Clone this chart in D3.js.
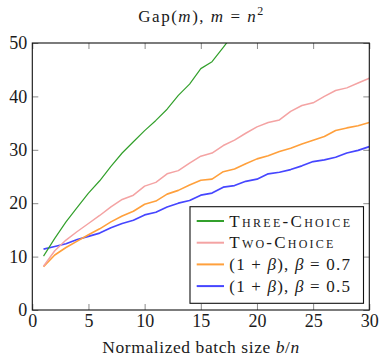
<!DOCTYPE html>
<html>
<head>
<meta charset="utf-8">
<script src="https://cdn.jsdelivr.net/npm/d3@7"></script>
</head>
<body style="margin:0; background:#fff">
<svg id="chart" width="379" height="359" style="display:block"></svg>
<script>
// batch size b/n
const batch = d3.range(1, 31);

const threeChoice = [10.1, 13.4, 16.5, 19.2, 21.9, 24.2, 26.9, 29.4, 31.5, 33.6,
  35.5, 37.6, 40.2, 42.3, 45.2, 46.5, 49.2, 51.9];
const twoChoice = [8.2, 11.1, 13.1, 14.7, 16.2, 17.7, 19.3, 20.7, 21.5, 23.2,
  23.9, 25.5, 26.1, 27.5, 28.8, 29.4, 30.8, 31.8, 33.1, 34.3,
  35.1, 35.6, 37.2, 38.3, 38.8, 40.0, 41.1, 41.6, 42.5, 43.4];
const onePlusBeta07 = [8.1, 10.3, 11.7, 12.9, 14.1, 15.2, 16.5, 17.6, 18.5, 19.8,
  20.4, 21.7, 22.4, 23.4, 24.3, 24.5, 25.9, 26.4, 27.4, 28.3,
  28.9, 29.7, 30.3, 31.1, 31.8, 32.5, 33.6, 34.1, 34.5, 35.1];
const onePlusBeta05 = [11.4, 11.9, 12.4, 13.2, 13.8, 14.4, 15.4, 16.2, 16.8, 17.8,
  18.3, 19.3, 20.0, 20.5, 21.5, 21.9, 23.0, 23.3, 24.1, 24.5,
  25.5, 25.8, 26.3, 27.0, 27.8, 28.1, 28.6, 29.4, 29.9, 30.6];

const xTicks = [0, 5, 10, 15, 20, 25, 30];
const yTicks = [0, 10, 20, 30, 40, 50];

const series = [
  { name: "Three-Choice", values: threeChoice, color: "#33a02c", width: 1.2, caps: true, textW: 120.7 },
  { name: "Two-Choice", values: twoChoice, color: "#f4a3a3", width: 1.5, caps: true, textW: 104 },
  { name: "(1 + β), β = 0.7", values: onePlusBeta07, color: "#ffa03c", width: 1.6, beta: "0.7", textW: 120.7 },
  { name: "(1 + β), β = 0.5", values: onePlusBeta05, color: "#4646ff", width: 1.7, beta: "0.5", textW: 120.7 }
];

const serif = '"Liberation Serif"';
const ink = "#1a1a1a";

const svg = d3.select("#chart");
const margin = {top: 43, right: 9.7, bottom: 49, left: 32.3};
const width = 379, height = 359;
const innerWidth = width - margin.left - margin.right;
const innerHeight = height - margin.top - margin.bottom;

const xScale = d3.scaleLinear().domain([0, 30]).range([0, innerWidth]);
const yScale = d3.scaleLinear().domain([0, 50]).range([innerHeight, 0]);

const g = svg.append("g")
  .attr("transform", `translate(${margin.left},${margin.top})`);

g.append("clipPath").attr("id", "plot-clip")
  .append("rect").attr("width", innerWidth).attr("height", innerHeight);

// axes, ticks pointing inward like pgfplots (mirrored on top/right)
const tick = 6;
g.append("g")
  .attr("transform", `translate(0,${innerHeight})`)
  .call(d3.axisBottom(xScale).tickValues(xTicks).tickSize(-tick).tickPadding(4.2));
g.append("g").attr("class", "mirror")
  .call(d3.axisTop(xScale).tickValues(xTicks).tickSize(-tick));
g.append("g")
  .call(d3.axisLeft(yScale).tickValues(yTicks).tickSize(-tick).tickPadding(5));
g.append("g").attr("class", "mirror")
  .attr("transform", `translate(${innerWidth},0)`)
  .call(d3.axisRight(yScale).tickValues(yTicks).tickSize(-tick));
g.selectAll(".mirror text").remove();
g.selectAll(".domain").remove();
g.selectAll("g").attr("font-family", null).attr("font-size", null);
g.selectAll(".tick line").attr("stroke", "#8a8a8a");
g.selectAll(".tick text")
  .style("font-family", serif).attr("font-size", 18).attr("fill", ink);

// lines
const line = d3.line()
  .x((d, i) => xScale(batch[i]))
  .y(d => yScale(d));

const lines = g.append("g").attr("clip-path", "url(#plot-clip)");
series.slice().reverse().forEach(s => {
  lines.append("path")
    .attr("d", line(s.values))
    .attr("fill", "none")
    .attr("stroke", s.color)
    .attr("stroke-width", s.width)
    .attr("stroke-linejoin", "round");
});

// frame
g.append("rect")
  .attr("width", innerWidth).attr("height", innerHeight)
  .attr("fill", "none").attr("stroke", "#111").attr("stroke-width", 1.1);

// legend
const legend = g.append("g")
  .attr("transform", `translate(${190 - margin.left},${206.7 - margin.top})`);
legend.append("rect")
  .attr("width", 173.5).attr("height", 96.6)
  .attr("fill", "#fff").attr("stroke", "#111").attr("stroke-width", 1.1);

const rowH = 21.7;
series.forEach((s, i) => {
  const row = legend.append("g").attr("transform", `translate(0,${14.3 + i * rowH})`);
  row.append("line")
    .attr("x1", 6.7).attr("x2", 34)
    .attr("stroke", s.color).attr("stroke-width", 2);
  const t = row.append("text")
    .attr("x", 39.3).attr("dy", "0.34em")
    .style("font-family", serif).attr("font-size", 17).attr("fill", ink)
    .attr("textLength", s.textW).attr("lengthAdjust", "spacing");
  if (s.caps) {
    t.style("font-variant", "small-caps").text(s.name);
  } else {
    t.append("tspan").text("(1 + ");
    t.append("tspan").style("font-style", "italic").text("β");
    t.append("tspan").text("), ");
    t.append("tspan").style("font-style", "italic").text("β");
    t.append("tspan").text(" = " + s.beta);
  }
});

// title
const title = svg.append("text")
  .attr("x", margin.left + innerWidth / 2).attr("y", 21.5)
  .attr("text-anchor", "middle")
  .style("font-family", serif).attr("font-size", 17).attr("fill", ink)
  .attr("textLength", 125).attr("lengthAdjust", "spacing");
title.append("tspan").text("Gap(");
title.append("tspan").style("font-style", "italic").text("m");
title.append("tspan").text("), ");
title.append("tspan").style("font-style", "italic").text("m");
title.append("tspan").text(" = ");
title.append("tspan").style("font-style", "italic").text("n");
title.append("tspan").attr("font-size", 12).attr("dy", -7).text("2");

// x axis label
const xLabel = svg.append("text")
  .attr("x", margin.left + innerWidth / 2).attr("y", 353.3)
  .attr("text-anchor", "middle")
  .style("font-family", serif).attr("font-size", 17.5).attr("fill", ink)
  .attr("textLength", 197).attr("lengthAdjust", "spacing");
xLabel.append("tspan").text("Normalized batch size ");
xLabel.append("tspan").style("font-style", "italic").text("b");
xLabel.append("tspan").text("/");
xLabel.append("tspan").style("font-style", "italic").text("n");
</script>
</body>
</html>
